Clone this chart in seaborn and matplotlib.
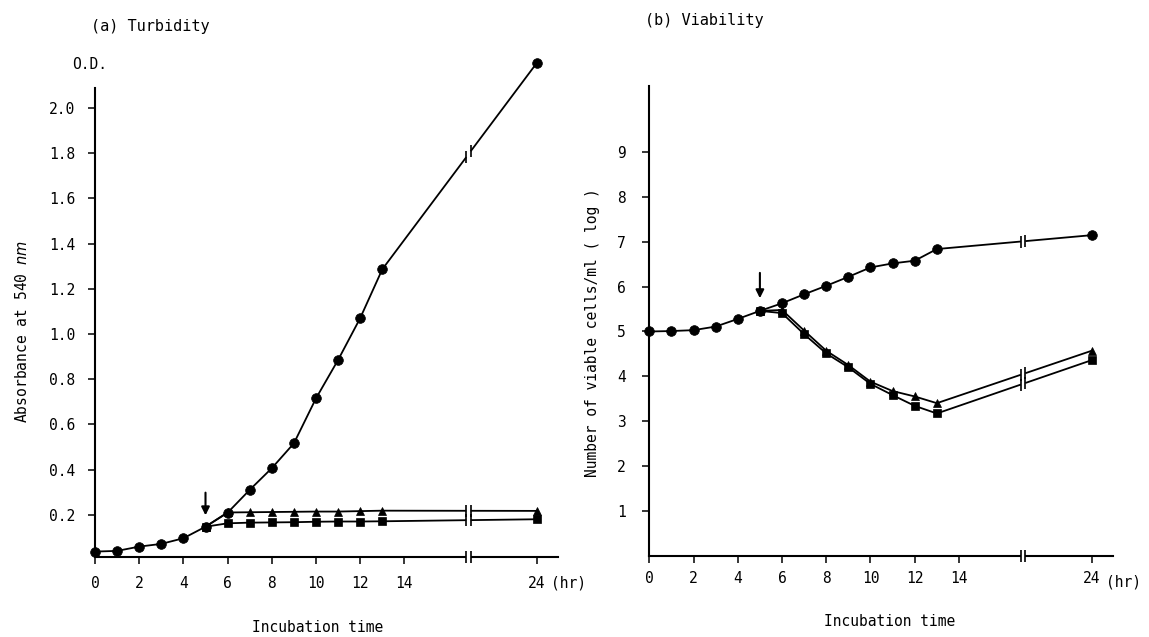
import numpy as np
import pandas as pd
import matplotlib
matplotlib.use("Agg")
import matplotlib.pyplot as plt
import seaborn as sns

# incubation times (hr)
hours_all = [0, 1, 2, 3, 4, 5, 6, 7, 8, 9, 10, 11, 12, 13, 24]
hours_treated = [5, 6, 7, 8, 9, 10, 11, 12, 13, 24]

# (a) turbidity, O.D. at 540 nm
od_control = [0.037, 0.04, 0.059, 0.071, 0.096, 0.147, 0.209, 0.31, 0.406,
              0.516, 0.715, 0.885, 1.07, 1.286, 2.2]
od_triangle = [0.147, 0.21, 0.211, 0.212, 0.213, 0.214, 0.214, 0.216, 0.218, 0.217]
od_square = [0.147, 0.162, 0.165, 0.166, 0.167, 0.169, 0.17, 0.17, 0.171, 0.18]

# (b) viability, log viable cells/ml
via_control = [5.0, 5.01, 5.03, 5.11, 5.28, 5.46, 5.63, 5.83, 6.02, 6.22,
               6.43, 6.52, 6.58, 6.84, 7.15]
via_triangle = [5.46, 5.48, 5.02, 4.57, 4.25, 3.88, 3.67, 3.55, 3.40, 4.57]
via_square = [5.46, 5.41, 4.94, 4.51, 4.20, 3.83, 3.58, 3.34, 3.17, 4.36]

x_ticks = [0, 2, 4, 6, 8, 10, 12, 14, 24]
a_yticks = [0.2, 0.4, 0.6, 0.8, 1.0, 1.2, 1.4, 1.6, 1.8, 2.0]
b_yticks = [1, 2, 3, 4, 5, 6, 7, 8, 9]

# broken time axis: after 14 hr the scale is squeezed
def pos(t):
    t = np.asarray(t, dtype=float)
    return np.where(t <= 14, t, 14 + (t - 14) * 0.6)

BREAK = 16.9

sns.set_theme(style="white")
plt.rcParams['font.family'] = ['DejaVu Sans Mono', 'DejaVu Sans']
plt.rcParams['mathtext.fontset'] = 'dejavusans'
plt.rcParams['text.color'] = 'black'
plt.rcParams['axes.labelcolor'] = 'black'

fig = plt.figure(figsize=(11.49, 6.37), dpi=100)
ax_a = fig.add_axes([95 / 1149, 80 / 637, 463 / 1149, 505.6 / 637])
ax_b = fig.add_axes([649.3 / 1149, 81.5 / 637, 463.4 / 1149, 474.9 / 637])


def draw_series(ax, hrs, vals, marker, ms):
    df = pd.DataFrame({'t': pos(hrs), 'v': vals})
    sns.lineplot(data=df, x='t', y='v', ax=ax, color='black', lw=1.3,
                 marker=marker, markersize=ms, markeredgecolor='black',
                 markeredgewidth=0.5, markerfacecolor='black', sort=False,
                 estimator=None)
    # break marks where the segment 13 -> 24 hr crosses the axis break
    xs = df['t'].values
    yv = df['v'].values
    yb1 = np.interp(BREAK - 0.1, xs, yv)
    yb2 = np.interp(BREAK + 0.1, xs, yv)
    ax.plot([BREAK - 0.1, BREAK + 0.1], [yb1, yb2], color='white', lw=3, zorder=3,
            solid_capstyle='butt')
    ax.plot([BREAK - 0.1, BREAK + 0.1], [yb1, yb2], ls='none', marker='|', ms=8,
            mew=1.2, color='black', zorder=4)


for ax, ctrl, tri, sq in [(ax_a, od_control, od_triangle, od_square),
                          (ax_b, via_control, via_triangle, via_square)]:
    draw_series(ax, hours_treated, sq, 's', 5.3)
    draw_series(ax, hours_treated, tri, '^', 5.8)
    draw_series(ax, hours_all, ctrl, 'o', 7)
    for ln in ax.lines:
        ln.set_clip_on(False)
    ax.set_xlim(0, 20.95)
    ax.set_xticks(pos(x_ticks))
    ax.set_xticklabels([str(t) for t in x_ticks])
    ax.set_xlabel('')
    ax.set_ylabel('')
    sns.despine(ax=ax)
    for sp in ['left', 'bottom']:
        ax.spines[sp].set_linewidth(1.5)
        ax.spines[sp].set_color('black')
    ax.tick_params(axis='both', which='both', direction='out', length=5,
                   width=1.1, color='black', labelsize=10.5, labelcolor='black',
                   left=True, bottom=True)
    # break on the time axis
    tr = ax.get_xaxis_transform()
    ax.plot([BREAK - 0.1, BREAK + 0.1], [0, 0], transform=tr, color='white', lw=3,
            zorder=5, clip_on=False, solid_capstyle='butt')
    ax.plot([BREAK - 0.1, BREAK + 0.1], [0, 0], transform=tr, ls='none', marker='|',
            ms=9, mew=1.2, color='black', zorder=6, clip_on=False)
    ax.annotate('(hr)', xy=(20.65, 0), xycoords=tr, xytext=(0, -19),
                textcoords='offset points', ha='left', va='center', fontsize=10.5)

ax_a.set_ylim(0.013, 2.25)
ax_a.set_yticks(a_yticks)
ax_a.set_yticklabels([f'{v:.1f}' for v in a_yticks])
ax_a.spines['left'].set_bounds(0.013, 2.09)
ax_a.tick_params(axis='y', pad=9)
ax_a.tick_params(axis='x', pad=9)
ax_a.text(-0.25, 2.19, 'O.D.', ha='center', va='center', fontsize=10.5)
ax_a.annotate('', xy=(5, 0.185), xytext=(5, 0.31),
              arrowprops=dict(arrowstyle='-|>', color='black', lw=1.5,
                              mutation_scale=12))

ax_b.set_ylim(0, 10.6)
ax_b.set_yticks(b_yticks)
ax_b.set_yticklabels([str(v) for v in b_yticks])
ax_b.spines['left'].set_bounds(0, 10.48)
ax_b.tick_params(axis='y', pad=12)
ax_b.tick_params(axis='x', pad=6)
ax_b.annotate('', xy=(5, 5.68), xytext=(5, 6.37),
              arrowprops=dict(arrowstyle='-|>', color='black', lw=1.5,
                              mutation_scale=12))

fig.text(91 / 1149, 1 - 26 / 637, '(a) Turbidity', ha='left', va='center', fontsize=11)
fig.text(645 / 1149, 1 - 20 / 637, '(b) Viability', ha='left', va='center', fontsize=11)
fig.text(318 / 1149, 1 - 628 / 637, 'Incubation time', ha='center', va='center', fontsize=10.5)
fig.text(890 / 1149, 1 - 622 / 637, 'Incubation time', ha='center', va='center', fontsize=10.5)
fig.text(22 / 1149, 1 - 331 / 637, r'Absorbance at 540 $\mathit{nm}$', rotation=90,
         ha='center', va='center', fontsize=10.5)
fig.text(592 / 1149, 1 - 333 / 637, 'Number of viable cells/ml ( log )', rotation=90,
         ha='center', va='center', fontsize=10.5)

fig.savefig('out.png', dpi=100)
